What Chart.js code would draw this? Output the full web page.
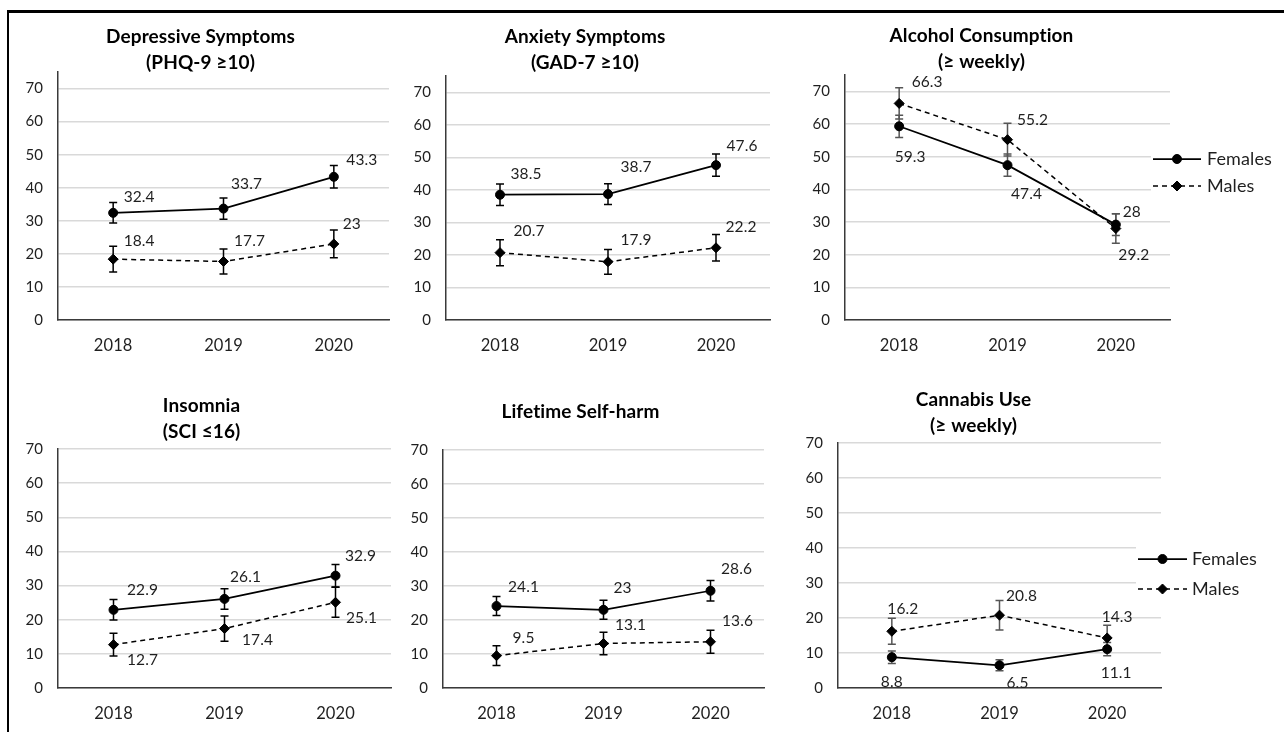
<!DOCTYPE html>
<html>
<head>
<meta charset="utf-8">
<script src="https://cdn.jsdelivr.net/npm/chart.js@4.4.1/dist/chart.umd.min.js"></script>
<style>
  html, body { margin: 0; padding: 0; background: #fff; }
  body { width: 1284px; height: 732px; position: relative; overflow: hidden; }
  #frame { position: absolute; left: 7px; top: 10px; width: 1300px; height: 740px;
           border-left: 2px solid #000; border-top: 3px solid #000; box-sizing: border-box; }
  canvas { position: absolute; }
</style>
</head>
<body>
<div id="frame"></div>
<canvas id="depression"></canvas>
<canvas id="anxiety"></canvas>
<canvas id="alcohol"></canvas>
<canvas id="insomnia"></canvas>
<canvas id="selfharm"></canvas>
<canvas id="cannabis"></canvas>
<script>
// Survey years on the x axis
const years = ['2018', '2019', '2020'];

// Prevalence (%) by sex, with 95% CI half-widths
const depressionFemales = [32.4, 33.7, 43.3];
const depressionMales = [18.4, 17.7, 23];
const depressionFemalesCI = [3.1, 3.2, 3.4];
const depressionMalesCI = [3.9, 3.8, 4.2];

const anxietyFemales = [38.5, 38.7, 47.6];
const anxietyMales = [20.7, 17.9, 22.2];
const anxietyFemalesCI = [3.3, 3.2, 3.4];
const anxietyMalesCI = [4.0, 3.8, 4.1];

const alcoholFemales = [59.3, 47.4, 29.2];
const alcoholMales = [66.3, 55.2, 28];
const alcoholFemalesCI = [3.4, 3.4, 3.3];
const alcoholMalesCI = [4.8, 5.0, 4.5];

const insomniaFemales = [22.9, 26.1, 32.9];
const insomniaMales = [12.7, 17.4, 25.1];
const insomniaFemalesCI = [3.0, 3.0, 3.3];
const insomniaMalesCI = [3.3, 3.7, 4.4];

const selfHarmFemales = [24.1, 23, 28.6];
const selfHarmMales = [9.5, 13.1, 13.6];
const selfHarmFemalesCI = [2.8, 2.8, 3.0];
const selfHarmMalesCI = [2.9, 3.3, 3.4];

const cannabisFemales = [8.8, 6.5, 11.1];
const cannabisMales = [16.2, 20.8, 14.3];
const cannabisFemalesCI = [1.8, 1.6, 1.9];
const cannabisMalesCI = [3.7, 4.2, 3.6];

const seriesNames = ['Females', 'Males'];
const yTickStep = 10;
const yTickTop = 70;

const FONT = "Lato, 'Open Sans', sans-serif";
const TEXT = '#1f1f1f';

// ---- plugins ---------------------------------------------------------------

// Tiny letter spacing keeps the font from merging glyph pairs into ligatures
const plainText = {
  id: 'plainText',
  beforeDraw(chart) {
    if ('letterSpacing' in chart.ctx) chart.ctx.letterSpacing = '0.1px';
  }
};

// Vertical CI whiskers with caps, drawn under the markers
const errorBars = {
  id: 'errorBars',
  beforeDatasetsDraw(chart, args, opts) {
    const ctx = chart.ctx;
    const y = chart.scales.y;
    ctx.save();
    ctx.strokeStyle = opts.color;
    ctx.lineWidth = 1.5;
    chart.data.datasets.forEach((ds, di) => {
      const meta = chart.getDatasetMeta(di);
      meta.data.forEach((pt, i) => {
        const v = ds.data[i], e = ds.ci[i];
        const yTop = y.getPixelForValue(v + e);
        const yBot = y.getPixelForValue(v - e);
        ctx.beginPath();
        ctx.moveTo(pt.x, yTop); ctx.lineTo(pt.x, yBot);
        ctx.moveTo(pt.x - 4, yTop); ctx.lineTo(pt.x + 4, yTop);
        ctx.moveTo(pt.x - 4, yBot); ctx.lineTo(pt.x + 4, yBot);
        ctx.stroke();
      });
    });
    ctx.restore();
  }
};

// Value labels next to each point
const valueLabels = {
  id: 'valueLabels',
  afterDatasetsDraw(chart, args, opts) {
    const ctx = chart.ctx;
    ctx.save();
    ctx.font = `15.5px ${FONT}`;
    ctx.fillStyle = TEXT;
    ctx.textAlign = 'center';
    ctx.textBaseline = 'middle';
    chart.data.datasets.forEach((ds, di) => {
      const meta = chart.getDatasetMeta(di);
      meta.data.forEach((pt, i) => {
        const [dx, dy] = opts.offsets[di][i];
        ctx.fillText(String(ds.data[i]), pt.x + dx, pt.y + dy);
      });
    });
    ctx.restore();
  }
};

// Line-and-marker legend placed beside the plot
const sideLegend = {
  id: 'sideLegend',
  afterDraw(chart, args, opts) {
    if (!opts.display) return;
    const ctx = chart.ctx;
    const a = chart.chartArea;
    const x0 = a.right + opts.lineStart, x1 = a.right + opts.lineEnd;
    const rows = opts.rows.map(r => a.top + r);
    ctx.save();
    ctx.fillStyle = '#fff';
    ctx.fillRect(x0 - 2, rows[0] - 13, chart.width - x0 + 2, rows[rows.length - 1] - rows[0] + 26);
    chart.data.datasets.forEach((ds, di) => {
      const yy = rows[di];
      ctx.strokeStyle = ds.borderColor;
      ctx.lineWidth = ds.borderWidth;
      ctx.setLineDash(ds.borderDash || []);
      ctx.beginPath(); ctx.moveTo(x0, yy); ctx.lineTo(x1, yy); ctx.stroke();
      ctx.setLineDash([]);
      ctx.fillStyle = ds.pointBackgroundColor;
      ctx.strokeStyle = ds.pointBorderColor;
      ctx.lineWidth = 1;
      Chart.helpers.drawPoint(ctx, {
        pointStyle: ds.pointStyle, radius: ds.pointRadius, borderWidth: 1
      }, (x0 + x1) / 2, yy);
      ctx.fillStyle = TEXT;
      ctx.font = `18px ${FONT}`;
      ctx.textAlign = 'left';
      ctx.textBaseline = 'middle';
      ctx.fillText(ds.label, x1 + opts.textGap, yy);
    });
    ctx.restore();
  }
};

// ---- panels ----------------------------------------------------------------

const panels = [
  { id: 'depression', title: ['Depressive Symptoms', '(PHQ-9 \u226510)'], titleY: 37,
    females: depressionFemales, males: depressionMales,
    femalesCI: depressionFemalesCI, malesCI: depressionMalesCI,
    area: { left: 58, right: 395, top: 72, bottom: 320 }, yMax: 75, canvasTop: 10,
    labels: [[[26, -16], [23, -25], [28, -17]], [[26, -18], [26, -20], [18, -20]]],
    ciColor: '#000' },
  { id: 'anxiety', title: ['Anxiety Symptoms', '(GAD-7 \u226510)'], titleY: 37,
    females: anxietyFemales, males: anxietyMales,
    femalesCI: anxietyFemalesCI, malesCI: anxietyMalesCI,
    area: { left: 446, right: 776, top: 76, bottom: 320 }, yMax: 75, canvasTop: 10,
    labels: [[[26, -21], [28, -27], [26, -19]], [[29, -22], [28, -22], [25, -21]]],
    ciColor: '#000' },
  { id: 'alcohol', title: ['Alcohol Consumption', '(\u2265 weekly)'], titleY: 36,
    females: alcoholFemales, males: alcoholMales,
    femalesCI: alcoholFemalesCI, malesCI: alcoholMalesCI,
    area: { left: 845, right: 1170, top: 75, bottom: 320 }, yMax: 75, canvasTop: 10,
    labels: [[[11, 31], [19, 29], [18, 30]], [[28, -21], [25, -20], [16, -17]]],
    ciColor: '#555',
    legend: { display: true, lineStart: -17, lineEnd: 31, textGap: 6, rows: [84, 111] } },
  { id: 'insomnia', title: ['Insomnia', '(SCI \u226416)'], titleY: 406,
    females: insomniaFemales, males: insomniaMales,
    femalesCI: insomniaFemalesCI, malesCI: insomniaMalesCI,
    area: { left: 58, right: 397, top: 449, bottom: 688 }, yMax: 70, canvasTop: 370,
    labels: [[[29, -20], [21, -22], [25, -20]], [[29, 15], [33, 11], [26, 16]]],
    ciColor: '#000' },
  { id: 'selfharm', title: ['Lifetime Self-harm'], titleY: 412,
    females: selfHarmFemales, males: selfHarmMales,
    femalesCI: selfHarmFemalesCI, malesCI: selfHarmMalesCI,
    area: { left: 443, right: 770, top: 450, bottom: 688 }, yMax: 70, canvasTop: 370,
    labels: [[[27, -19], [19, -22], [26, -22]], [[27, -18], [27, -18], [27, -21]]],
    ciColor: '#000' },
  { id: 'cannabis', title: ['Cannabis Use', '(\u2265 weekly)'], titleY: 400,
    females: cannabisFemales, males: cannabisMales,
    femalesCI: cannabisFemalesCI, malesCI: cannabisMalesCI,
    area: { left: 838, right: 1161, top: 443, bottom: 688 }, yMax: 70, canvasTop: 370,
    labels: [[[0, 25], [18, 18], [9, 24]], [[11, -22], [22, -19], [10, -21]]],
    ciColor: '#555',
    legend: { display: true, lineStart: -23, lineEnd: 26, textGap: 5, rows: [116, 146] } }
];

const Y_AXIS_W = 52;
const X_AXIS_H = 40;
const TITLE_SIZE = 19;
const TITLE_LH = 1.35;
const PAGE_W = 1284;

panels.forEach(p => {
  const canvas = document.getElementById(p.id);
  const lineH = TITLE_SIZE * TITLE_LH;
  const titleTop = p.titleY - lineH / 2;
  const padTop = titleTop - p.canvasTop;
  const padBottom = p.area.top - (titleTop + lineH * p.title.length);
  const left = p.area.left - Y_AXIS_W;
  const right = p.legend ? PAGE_W : p.area.right;
  const w = right - left;
  const h = p.area.bottom + X_AXIS_H - p.canvasTop;
  canvas.width = w; canvas.height = h;
  canvas.style.left = left + 'px';
  canvas.style.top = p.canvasTop + 'px';
  canvas.style.width = w + 'px';
  canvas.style.height = h + 'px';

  new Chart(canvas, {
    type: 'line',
    data: {
      labels: years,
      datasets: [
        { label: seriesNames[0], data: p.females, ci: p.femalesCI,
          borderColor: '#000', backgroundColor: '#000', borderWidth: 1.75,
          pointStyle: 'circle', pointRadius: 4.5, pointBorderWidth: 1,
          pointBackgroundColor: '#000', pointBorderColor: '#000' },
        { label: seriesNames[1], data: p.males, ci: p.malesCI,
          borderColor: '#000', backgroundColor: '#000', borderWidth: 1.5, borderDash: [5, 4],
          pointStyle: 'rectRot', pointRadius: 5, pointBorderWidth: 1,
          pointBackgroundColor: '#000', pointBorderColor: '#000' }
      ]
    },
    options: {
      responsive: false,
      animation: false,
      devicePixelRatio: 1,
      layout: { padding: { top: 0, left: 0, bottom: 0, right: right - p.area.right } },
      scales: {
        x: {
          offset: true,
          grid: { display: false, drawTicks: false },
          border: { display: true, color: '#3a3a3a', width: 1.5 },
          ticks: { color: TEXT, font: { family: FONT, size: 16.5 }, padding: 16 },
          afterFit: s => { s.height = X_AXIS_H; }
        },
        y: {
          min: 0, max: p.yMax,
          grid: { color: '#d9d9d9', lineWidth: 1.5, drawTicks: false },
          border: { display: true, color: '#3a3a3a', width: 1.5 },
          ticks: { stepSize: yTickStep, includeBounds: false, autoSkip: false,
                   color: TEXT, font: { family: FONT, size: 15 }, padding: 15 },
          afterBuildTicks: s => { s.ticks = s.ticks.filter(t => t.value <= yTickTop); },
          afterFit: s => { s.width = Y_AXIS_W; }
        }
      },
      plugins: {
        legend: { display: false },
        tooltip: { enabled: false },
        title: {
          display: true, text: p.title, color: '#000',
          font: { family: FONT, size: TITLE_SIZE, weight: 'bold', lineHeight: TITLE_LH },
          padding: { top: padTop, bottom: padBottom }
        },
        errorBars: { color: p.ciColor },
        valueLabels: { offsets: p.labels },
        sideLegend: p.legend || { display: false }
      }
    },
    plugins: [plainText, errorBars, valueLabels, sideLegend]
  });
});
</script>
</body>
</html>
